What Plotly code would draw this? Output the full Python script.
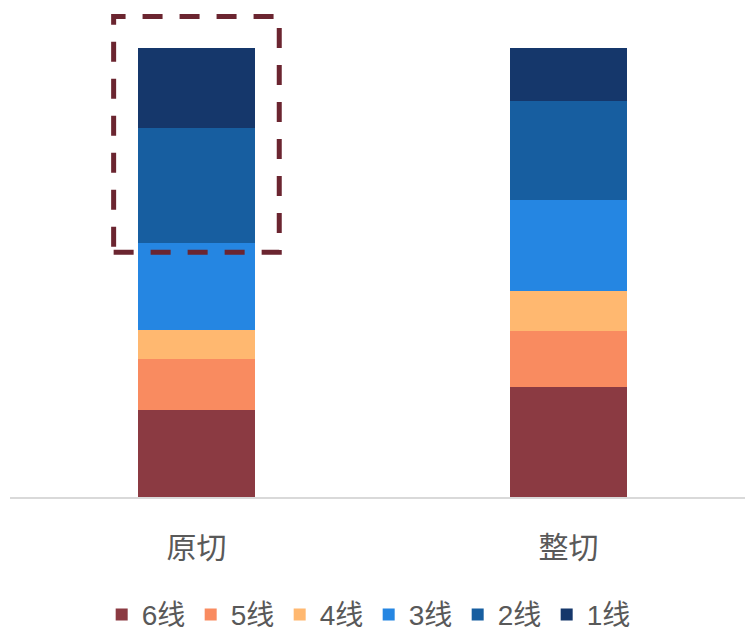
import plotly.graph_objects as go

# Share of each line grade within the two cutting methods (%)
categories = ["原切", "整切"]
series_names = ["6线", "5线", "4线", "3线", "2线", "1线"]
share_6 = [19.4, 24.4]
share_5 = [11.4, 12.6]
share_4 = [6.5, 8.9]
share_3 = [19.2, 20.2]
share_2 = [25.8, 22.2]
share_1 = [17.7, 11.7]
series_values = [share_6, share_5, share_4, share_3, share_2, share_1]
colors = ["#8B3A42", "#F98B60", "#FFB870", "#2586E2", "#175EA0", "#15376B"]

BAR_WIDTH = 0.315
FONT = "Liberation Sans, Noto Sans CJK SC, sans-serif"

fig = go.Figure()
for name, vals, col in zip(series_names, series_values, colors):
    fig.add_trace(go.Bar(
        x=categories, y=vals, name=name,
        marker=dict(color=col, line=dict(width=0)),
        width=BAR_WIDTH,
    ))

# Dashed frame highlighting the top two grades (2线, 1线) of the first bar
first_total = sum(v[0] for v in series_values)
first_lower = sum(v[0] for v in series_values[:4])
pad_x = 0.065
fig.add_shape(
    type="rect", xref="x", yref="y",
    x0=0 - BAR_WIDTH / 2 - pad_x, x1=0 + BAR_WIDTH / 2 + pad_x,
    y0=first_lower - 2, y1=first_total + 7,
    line=dict(color="#6B2530", width=5, dash="20px,17px"),
    fillcolor="rgba(0,0,0,0)", layer="above",
)

fig.update_layout(
    width=745, height=630,
    margin=dict(l=10, r=0, t=0, b=133, autoexpand=False),
    barmode="stack",
    bargap=0,
    plot_bgcolor="white", paper_bgcolor="white",
    font=dict(family=FONT, color="#595959", size=28),
    showlegend=True,
    legend=dict(
        orientation="h", x=0.488, xanchor="center", y=-0.237, yanchor="middle",
        font=dict(size=28, color="#595959"),
        traceorder="normal", itemclick=False,
        entrywidth=44, entrywidthmode="pixels",
        tracegroupgap=0,
    ),
    xaxis=dict(
        type="category", range=[-0.501, 1.474],
        showline=True, linecolor="#D9D9D9", linewidth=2,
        showgrid=False, ticks="", zeroline=False, automargin=False,
        tickfont=dict(size=30, color="#595959"),
        ticklabelstandoff=23,
    ),
    yaxis=dict(
        range=[0, 110.7], visible=False, showgrid=False, zeroline=False,
        automargin=False,
    ),
)

fig.write_html("out.html")
